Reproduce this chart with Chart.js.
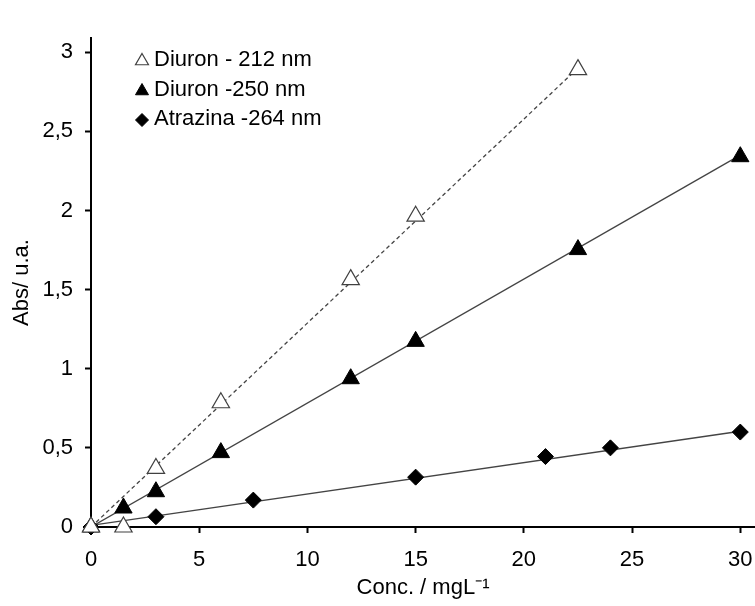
<!DOCTYPE html>
<html>
<head>
<meta charset="utf-8">
<script src="https://cdn.jsdelivr.net/npm/chart.js@4.4.0/dist/chart.umd.min.js"></script>
<style>
  html, body { margin: 0; padding: 0; background: #fff; }
  #wrap { width: 755px; height: 606px; }
</style>
</head>
<body>
<div id="wrap"><canvas id="chart"></canvas></div>
<script>
// measured points
const x212 = [0, 1.5, 3, 6, 12, 15, 22.5];
const y212 = [0, 0.0, 0.37, 0.785, 1.563, 1.964, 2.89];
const x250 = [0, 1.5, 3, 6, 12, 15, 22.5, 30];
const y250 = [0, 0.12, 0.223, 0.47, 0.937, 1.173, 1.753, 2.34];
const xAtr = [0, 3, 7.5, 15, 21, 24, 30];
const yAtr = [0, 0.065, 0.17, 0.315, 0.445, 0.5, 0.6];

// linear fit lines (end points)
const fitX212 = [0, 22.5];
const fitY212 = [0, 2.9];
const fitX250 = [0, 30];
const fitY250 = [0, 2.35];
const fitXAtr = [0, 30];
const fitYAtr = [0.01, 0.605];

const labels = ["Diuron - 212 nm", "Diuron -250 nm", "Atrazina -264 nm"];
const xTicks = [0, 5, 10, 15, 20, 25, 30];
const yTicks = [0, 0.5, 1, 1.5, 2, 2.5, 3];

const FONT = "'Liberation Sans', Arial, sans-serif";
const pts = (xs, ys) => xs.map((x, i) => ({ x: x, y: ys[i] }));

const markerSets = [
  { label: labels[0], data: pts(x212, y212), pointStyle: "triangle", pointRadius: 10,
    pointBackgroundColor: "#fff", pointBorderColor: "#404040", pointBorderWidth: 1.2 },
  { label: labels[1], data: pts(x250, y250), pointStyle: "triangle", pointRadius: 10,
    pointBackgroundColor: "#000", pointBorderColor: "#000", pointBorderWidth: 1 },
  { label: labels[2], data: pts(xAtr, yAtr), pointStyle: "rectRot", pointRadius: 8,
    pointBackgroundColor: "#000", pointBorderColor: "#000", pointBorderWidth: 1 },
].map(d => Object.assign(d, { showLine: false, order: 0, clip: false, pointHoverRadius: d.pointRadius }));

const fitSets = [
  { data: pts(fitX212, fitY212), borderDash: [4, 3] },
  { data: pts(fitX250, fitY250) },
  { data: pts(fitXAtr, fitYAtr) },
].map(d => Object.assign(d, { label: "", showLine: true, borderColor: "#444", borderWidth: 1.3,
  pointRadius: 0, order: 1, fill: false }));

// legend drawn inside the plot
const innerLegend = {
  id: "innerLegend",
  afterDraw(chart) {
    const ctx = chart.ctx;
    const rows = [60, 90, 119];
    ctx.save();
    ctx.font = "22px " + FONT;
    ctx.textBaseline = "middle";
    markerSets.forEach((d, i) => {
      ctx.fillStyle = d.pointBackgroundColor;
      ctx.strokeStyle = d.pointBorderColor;
      ctx.lineWidth = d.pointBorderWidth;
      Chart.helpers.drawPoint(ctx, {
        pointStyle: d.pointStyle,
        radius: d.pointStyle === "triangle" ? 7.5 : 6.5,
        rotation: 0,
        borderWidth: d.pointBorderWidth,
      }, 142, rows[i] + 1);
      ctx.fillStyle = "#000";
      ctx.fillText(d.label, 154, rows[i]);
    });
    ctx.restore();
  },
};

new Chart(document.getElementById("chart"), {
  type: "scatter",
  data: { datasets: markerSets.concat(fitSets) },
  options: {
    responsive: true,
    maintainAspectRatio: false,
    animation: false,
    layout: { autoPadding: false, padding: { top: 38, left: 0, right: 0, bottom: 0 } },
    plugins: { legend: { display: false }, tooltip: { enabled: false } },
    scales: {
      x: {
        type: "linear", min: 0, max: 30.68,
        afterBuildTicks: s => { s.ticks = xTicks.map(v => ({ value: v })); },
        afterFit: s => { s.height = 79; s.paddingLeft = 0; s.paddingRight = 0; },
        border: { color: "#000", width: 2 },
        grid: { drawOnChartArea: false, drawTicks: true, tickLength: 6, tickColor: "#000", tickWidth: 2 },
        ticks: { color: "#000", font: { family: FONT, size: 22 }, padding: 14, maxRotation: 0 },
        title: { display: true, text: "Conc. / mgL\u207B\u00B9", color: "#000",
          font: { family: FONT, size: 22 }, padding: { bottom: 5 } },
      },
      y: {
        type: "linear", min: 0, max: 3.09,
        afterBuildTicks: s => { s.ticks = yTicks.map(v => ({ value: v })); },
        afterFit: s => { s.width = 91; s.paddingTop = 0; s.paddingBottom = 0; },
        border: { color: "#000", width: 2 },
        grid: { drawOnChartArea: false, drawTicks: true, tickLength: 6, tickColor: "#000", tickWidth: 2 },
        ticks: { color: "#000", font: { family: FONT, size: 22 }, padding: 12,
          callback: v => String(v).replace(".", ",") },
        title: { display: true, text: "Abs/ u.a.", color: "#000",
          font: { family: FONT, size: 22 }, padding: { top: 9 } },
      },
    },
  },
  plugins: [innerLegend],
});
</script>
</body>
</html>
